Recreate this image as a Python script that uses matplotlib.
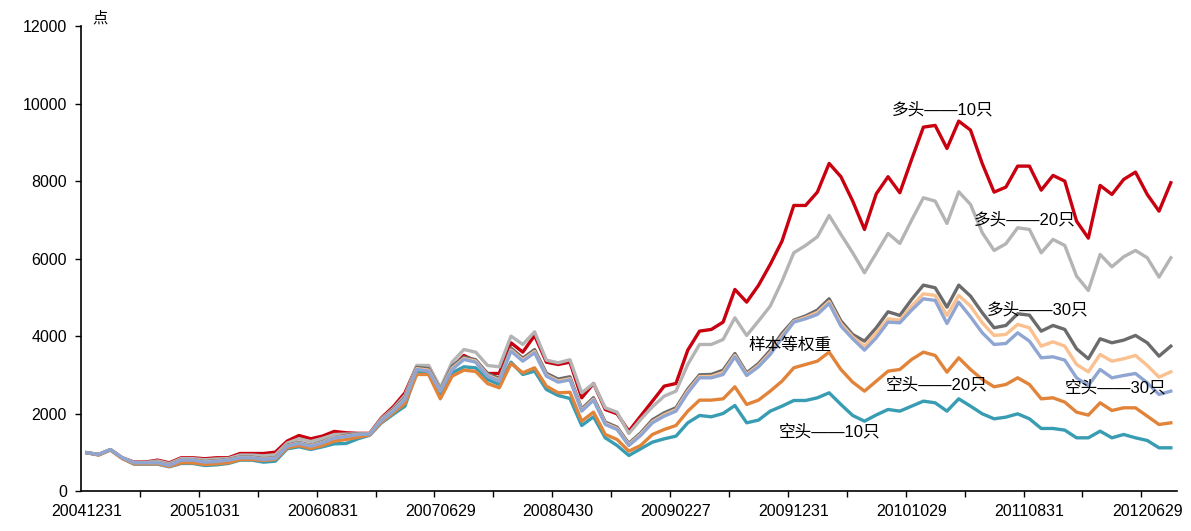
import numpy as np
import matplotlib
matplotlib.use("Agg")
import matplotlib.pyplot as plt

plt.rcParams['font.family'] = ['Liberation Sans', 'Noto Sans CJK SC', 'DejaVu Sans']

# month-end index values, 20041231 .. 20120928 (93 months)
long10 = [1000, 955, 1080, 870, 760, 760, 810, 740, 870, 870,
          845, 870, 870, 980, 980, 980, 1015, 1300, 1445, 1360,
          1430, 1550, 1515, 1500, 1500, 1900, 2185, 2546, 3234, 3234,
          2649, 3191, 3510, 3363, 3045, 3045, 3836, 3595, 4026, 3337,
          3277, 3337, 2417, 2787, 2116, 2005, 1556, 1944, 2331, 2718,
          2787, 3647, 4137, 4181, 4370, 5213, 4886, 5316, 5858, 6460,
          7380, 7380, 7724, 8464, 8121, 7492, 6761, 7680, 8121, 7708,
          8568, 9401, 9445, 8852, 9556, 9324, 8457, 7724, 7853, 8395,
          8395, 7775, 8155, 8008, 6975, 6537, 7897, 7664, 8052, 8240,
          7664, 7233, 7966]
long20 = [1000, 955, 1080, 865, 750, 750, 790, 720, 850, 850,
          820, 840, 850, 940, 940, 920, 950, 1250, 1360, 1290,
          1370, 1470, 1480, 1490, 1495, 1880, 2140, 2480, 3252, 3252,
          2675, 3337, 3664, 3595, 3252, 3217, 4009, 3793, 4120, 3389,
          3320, 3400, 2546, 2787, 2159, 2047, 1497, 1858, 2185, 2460,
          2589, 3277, 3793, 3793, 3922, 4482, 4026, 4396, 4783, 5427,
          6159, 6348, 6572, 7122, 6632, 6159, 5643, 6150, 6658, 6400,
          7000, 7578, 7492, 6916, 7733, 7406, 6675, 6219, 6391, 6804,
          6761, 6159, 6503, 6348, 5557, 5187, 6116, 5798, 6056, 6219,
          6030, 5531, 6030]
long30 = [1000, 955, 1080, 870, 745, 745, 750, 685, 820, 820,
          770, 790, 825, 885, 885, 845, 870, 1190, 1265, 1195,
          1285, 1390, 1450, 1485, 1490, 1850, 2110, 2420, 3200, 3170,
          2620, 3230, 3470, 3400, 3040, 2920, 3700, 3440, 3660, 3050,
          2900, 2960, 2130, 2420, 1790, 1660, 1240, 1510, 1850, 2030,
          2160, 2640, 3010, 3020, 3130, 3560, 3060, 3300, 3640, 4080,
          4420, 4530, 4680, 4972, 4400, 4050, 3879, 4224, 4637, 4542,
          4955, 5324, 5256, 4756, 5324, 5040, 4611, 4224, 4284, 4585,
          4550, 4137, 4284, 4181, 3682, 3424, 3940, 3837, 3905, 4026,
          3837, 3492, 3750]
equal_w = [1000, 955, 1080, 869, 742, 742, 745, 676, 813, 813,
           762, 780, 815, 875, 875, 833, 858, 1178, 1248, 1180,
           1267, 1390, 1430, 1475, 1484, 1838, 2088, 2392, 3170, 3130,
           2600, 3180, 3430, 3365, 3000, 2875, 3650, 3395, 3610, 3005,
           2850, 2910, 2095, 2380, 1755, 1625, 1210, 1475, 1800, 1980,
           2110, 2590, 2965, 2970, 3070, 3510, 3020, 3250, 3580, 4010,
           4390, 4490, 4620, 4900, 4330, 3990, 3750, 4094, 4456, 4421,
           4783, 5101, 5058, 4542, 5058, 4783, 4352, 4026, 4052, 4310,
           4224, 3750, 3862, 3750, 3277, 3088, 3535, 3363, 3424, 3510,
           3252, 2950, 3088]
short30 = [1000, 955, 1080, 869, 740, 740, 740, 671, 809, 809,
           757, 774, 809, 869, 869, 826, 852, 1170, 1239, 1170,
           1256, 1380, 1420, 1470, 1480, 1830, 2073, 2374, 3148, 3105,
           2589, 3148, 3406, 3337, 2976, 2847, 3621, 3363, 3578, 2976,
           2821, 2880, 2073, 2357, 1729, 1600, 1187, 1445, 1772, 1944,
           2073, 2546, 2933, 2933, 3019, 3475, 2993, 3217, 3535, 3966,
           4370, 4456, 4568, 4852, 4267, 3940, 3647, 3966, 4370, 4352,
           4680, 4972, 4929, 4335, 4886, 4507, 4094, 3793, 3819, 4094,
           3879, 3449, 3475, 3389, 2933, 2735, 3148, 2933, 2993, 3045,
           2804, 2503, 2589]
short20 = [1000, 940, 1070, 850, 714, 714, 714, 645, 740, 740,
           697, 714, 740, 826, 826, 800, 826, 1127, 1187, 1110,
           1187, 1299, 1342, 1400, 1460, 1790, 2030, 2270, 3019, 3019,
           2391, 2976, 3131, 3097, 2787, 2675, 3303, 3062, 3191, 2718,
           2546, 2560, 1815, 2047, 1471, 1342, 1041, 1187, 1471, 1600,
           1703, 2073, 2357, 2357, 2391, 2701, 2245, 2357, 2589, 2847,
           3191, 3277, 3363, 3595, 3148, 2821, 2589, 2847, 3105, 3148,
           3406, 3595, 3510, 3079, 3449, 3148, 2890, 2701, 2761, 2933,
           2761, 2391, 2417, 2306, 2047, 1970, 2288, 2090, 2159, 2159,
           1944, 1729, 1772]
short10 = [1000, 945, 1075, 855, 706, 706, 706, 637, 723, 723,
           671, 688, 723, 809, 809, 757, 783, 1101, 1153, 1084,
           1153, 1230, 1239, 1360, 1450, 1770, 1990, 2202, 3105, 3045,
           2503, 3062, 3217, 3191, 2890, 2761, 3337, 3019, 3105, 2632,
           2477, 2400, 1703, 1927, 1385, 1187, 929, 1101, 1273, 1359,
           1428, 1772, 1961, 1927, 2013, 2219, 1772, 1841, 2073, 2202,
           2348, 2348, 2417, 2546, 2245, 1961, 1815, 1975, 2116, 2073,
           2202, 2331, 2288, 2073, 2391, 2202, 2004, 1875, 1918, 2004,
           1875, 1626, 1626, 1583, 1385, 1385, 1557, 1385, 1471, 1385,
           1316, 1127, 1127]

tick_labels = ['20041231', '20051031', '20060831', '20070629', '20080430',
               '20090227', '20091231', '20101029', '20110831', '20120629']

x = np.arange(len(long10))

fig = plt.figure(figsize=(11.91, 5.31), dpi=100)
ax = fig.add_axes([0.068, 0.0744, 0.920, 0.8759])

lw = 2.4
ax.plot(x, long10, color='#C8000F', lw=lw)
ax.plot(x, long20, color='#B4B4B4', lw=lw)
ax.plot(x, long30, color='#6B6B6B', lw=lw)
ax.plot(x, equal_w, color='#FAC08F', lw=lw)
ax.plot(x, short10, color='#389CB2', lw=lw)
ax.plot(x, short20, color='#E2833A', lw=lw)
ax.plot(x, short30, color='#8FA5D2', lw=lw)

ax.set_xlim(-0.5, len(x) - 0.5)
ax.set_ylim(0, 12000)
ax.set_yticks(range(0, 12001, 2000))
ax.set_xticks(np.arange(0, len(x), 10))
ax.set_xticklabels(tick_labels)
ax.set_xticks(np.arange(4.5, len(x) - 1, 5), minor=True)
ax.tick_params(axis='x', which='major', length=0, labelsize=11.5, pad=9)
ax.tick_params(axis='x', which='minor', length=4, width=1, direction='out')
ax.tick_params(axis='y', length=4, width=1, direction='out', labelsize=11.5, pad=6)

for s in ['top', 'right']:
    ax.spines[s].set_visible(False)
for s in ['left', 'bottom']:
    ax.spines[s].set_linewidth(1.2)

fs = 12
ax.text(72.6, 9845, '多头——10只', fontsize=fs, ha='center', va='center')
ax.text(79.6, 7006, '多头——20只', fontsize=fs, ha='center', va='center')
ax.text(80.7, 4684, '多头——30只', fontsize=fs, ha='center', va='center')
ax.text(59.7, 3781, '样本等权重', fontsize=fs, ha='center', va='center')
ax.text(72.1, 2748, '空头——20只', fontsize=fs, ha='center', va='center')
ax.text(87.3, 2671, '空头——30只', fontsize=fs, ha='center', va='center')
ax.text(63.0, 1535, '空头——10只', fontsize=fs, ha='center', va='center')
fig.text(100 / 1191, 1 - 18 / 531, '点', fontsize=11, ha='center', va='center')

fig.savefig('out.png', dpi=100)
